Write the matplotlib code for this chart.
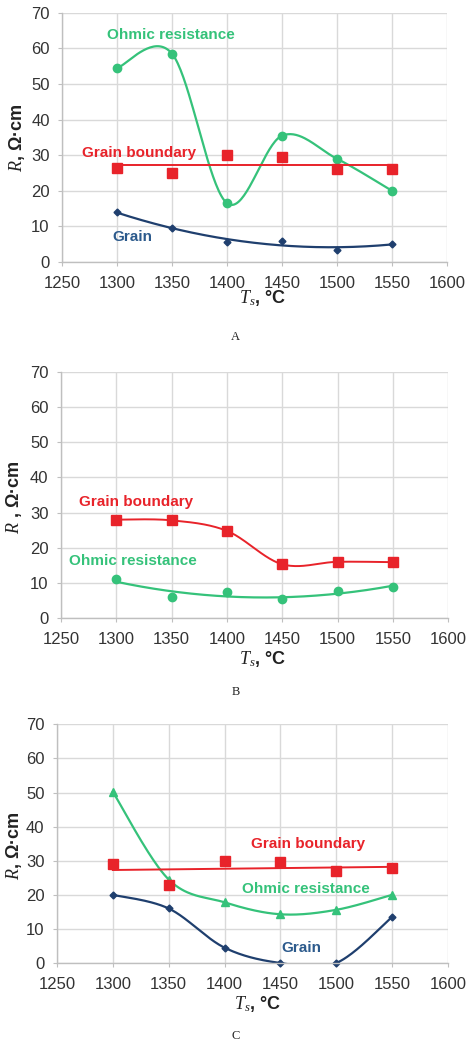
import numpy as np
import matplotlib
matplotlib.use("Agg")
import matplotlib.pyplot as plt

plt.rcParams['font.family'] = ['Liberation Sans', 'DejaVu Sans']
plt.rcParams['mathtext.fontset'] = 'custom'
plt.rcParams['mathtext.it'] = 'Liberation Serif:italic'
plt.rcParams['mathtext.rm'] = 'Liberation Serif'
plt.rcParams['mathtext.bf'] = 'Liberation Sans:bold'

# ---------------- data ----------------
temps = [1300, 1350, 1400, 1450, 1500, 1550]
x_ticks = [1250, 1300, 1350, 1400, 1450, 1500, 1550, 1600]
y_ticks = [0, 10, 20, 30, 40, 50, 60, 70]

a_ohmic = [54.5, 58.5, 16.5, 35.5, 29.0, 20.0]
a_boundary = [26.5, 25.0, 30.0, 29.5, 26.0, 26.0]
a_grain = [14.0, 9.5, 5.5, 6.0, 3.5, 5.0]

b_boundary = [28.0, 27.8, 24.8, 15.3, 16.0, 15.9]
b_ohmic = [11.0, 6.0, 7.3, 5.3, 7.7, 8.8]

c_ohmic = [50.2, 24.5, 17.8, 14.3, 15.6, 20.0]
c_boundary = [29.0, 23.0, 30.0, 29.5, 27.0, 28.0]
c_grain = [20.0, 16.0, 4.5, 0.0, 0.0, 13.5]

GREEN = '#35c27a'
RED = '#e8232a'
NAVY = '#1f3f6e'
GRID = '#d9d9d9'
TICKC = '#333333'


def smooth(xs, ys, n=40):
    """Excel-like smoothed line (Catmull-Rom Bezier)."""
    P = np.column_stack([xs, ys]).astype(float)
    out = []
    m = len(P)
    for i in range(m - 1):
        p0 = P[i - 1] if i > 0 else P[i]
        p1 = P[i]
        p2 = P[i + 1]
        p3 = P[i + 2] if i + 2 < m else P[i + 1]
        c1 = p1 + (p2 - p0) / 6.0
        c2 = p2 - (p3 - p1) / 6.0
        t = np.linspace(0, 1, n)[:, None]
        seg = ((1 - t) ** 3) * p1 + 3 * ((1 - t) ** 2) * t * c1 + 3 * (1 - t) * t ** 2 * c2 + t ** 3 * p2
        out.append(seg if i == 0 else seg[1:])
    S = np.vstack(out)
    return S[:, 0], S[:, 1]


def trend(xs, ys, deg):
    coef = np.polyfit(xs, ys, deg)
    xx = np.linspace(min(xs), max(xs), 200)
    return xx, np.polyval(coef, xx)


fig = plt.figure(figsize=(4.71, 10.42), dpi=100)

boxes = [
    [0.132, 0.7486, 0.817, 0.239],
    [0.1295, 0.4069, 0.822, 0.236],
    [0.121, 0.0758, 0.830, 0.229],
]
xlab_pos = [(0.52, -0.105), (0.52, -0.128), (0.514, -0.128)]
ylab_pos = [(-0.091, 0.50), (-0.096, 0.49), (-0.084, 0.49)]
ylabels = [r'$\mathit{R}$, Ω·cm', r'$\mathit{R}$ , Ω·cm', r'$\mathit{R}$, Ω·cm']
letters = ['A', 'B', 'C']
letter_y = [337, 692, 1036]

axes = []
for k, b in enumerate(boxes):
    ax = fig.add_axes(b)
    ax.set_xlim(1250, 1600)
    ax.set_ylim(0, 70)
    ax.set_xticks(x_ticks)
    ax.set_yticks(y_ticks)
    ax.grid(True, color=GRID, lw=1.0)
    ax.set_axisbelow(True)
    for s in ['top', 'right']:
        ax.spines[s].set_visible(False)
    for s in ['left', 'bottom']:
        ax.spines[s].set_color('#bfbfbf')
        ax.spines[s].set_linewidth(1.0)
    ax.tick_params(axis='both', direction='out', length=3, color='#bfbfbf',
                   labelsize=12, labelcolor=TICKC)
    ax.tick_params(axis='x', pad=7)
    ax.tick_params(axis='y', pad=6)
    ax.set_xlabel(r'$\mathit{T}_{\mathit{s}}$, °C', fontsize=13, fontweight='bold', color='#222222')
    ax.set_ylabel(ylabels[k], fontsize=13, fontweight='bold', color='#222222')
    ax.xaxis.set_label_coords(*xlab_pos[k])
    ax.yaxis.set_label_coords(*ylab_pos[k])
    fig.text(0.5, 1 - letter_y[k] / 1042, letters[k], ha='center', va='center',
             fontsize=9, family='Liberation Serif', color='#222222')
    axes.append(ax)

lab = dict(fontsize=11, fontweight='bold', va='center', ha='left')

# ---- Panel A ----
ax = axes[0]
sx, sy = smooth(temps, a_ohmic)
ax.plot(sx, sy, color=GREEN, lw=1.6)
ax.plot(temps, a_ohmic, 'o', color=GREEN, ms=6, clip_on=False)
tx, ty = trend(temps, a_boundary, 1)
ax.plot(tx, ty, color=RED, lw=1.4)
ax.plot(temps, a_boundary, 's', color=RED, ms=6.5, clip_on=False)
tx, ty = trend(temps, a_grain, 2)
ax.plot(tx, ty, color=NAVY, lw=1.6)
ax.plot(temps, a_grain, 'D', color=NAVY, ms=3.5, clip_on=False)
ax.text(1291, 63.8, 'Ohmic resistance', color=GREEN, **lab)
ax.text(1268, 30.6, 'Grain boundary', color=RED, **lab)
ax.text(1296, 7.0, 'Grain', color='#2c5a8c', **lab)

# ---- Panel B ----
ax = axes[1]
sx, sy = smooth(temps, b_boundary)
ax.plot(sx, sy, color=RED, lw=1.4)
ax.plot(temps, b_boundary, 's', color=RED, ms=6.5, clip_on=False)
tx, ty = trend(temps, b_ohmic, 2)
ax.plot(tx, ty, color=GREEN, lw=1.6)
ax.plot(temps, b_ohmic, 'o', color=GREEN, ms=6, clip_on=False)
ax.text(1266, 33.0, 'Grain boundary', color=RED, **lab)
ax.text(1257, 16.2, 'Ohmic resistance', color=GREEN, **lab)

# ---- Panel C ----
ax = axes[2]
sx, sy = smooth(temps, c_ohmic)
ax.plot(sx, sy, color=GREEN, lw=1.6)
ax.plot(temps, c_ohmic, '^', color=GREEN, ms=6, clip_on=False)
tx, ty = trend(temps, c_boundary, 1)
ax.plot(tx, ty, color=RED, lw=1.4)
ax.plot(temps, c_boundary, 's', color=RED, ms=6.5, clip_on=False)
sx, sy = smooth(temps, c_grain)
ax.plot(sx, sy, color=NAVY, lw=1.6)
ax.plot(temps, c_grain, 'D', color=NAVY, ms=3.5, clip_on=False)
ax.text(1423.6, 34.9, 'Grain boundary', color=RED, **lab)
ax.text(1415.6, 21.7, 'Ohmic resistance', color=GREEN, **lab)
ax.text(1450.5, 4.4, 'Grain', color='#2c5a8c', **lab)

fig.savefig('out.png', dpi=100, facecolor='white')
